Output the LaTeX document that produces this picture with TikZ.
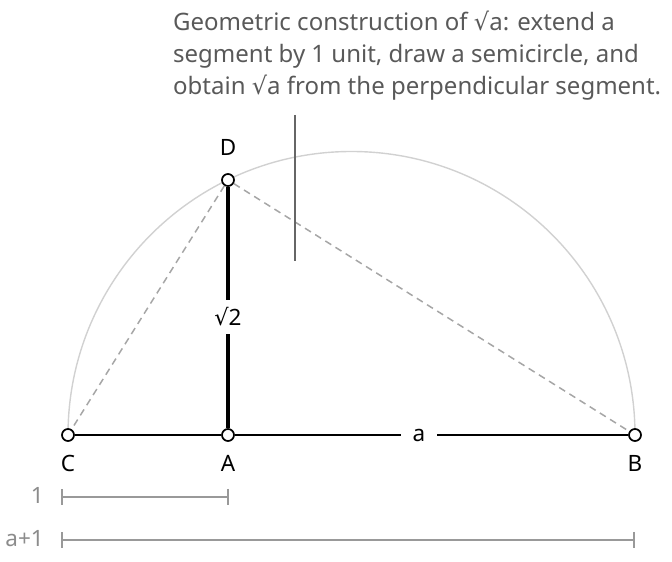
\documentclass[tikz,border=0pt]{standalone}
\usepackage{fontspec}
\setmainfont{Noto Sans}
\newfontfamily\rootfont{DejaVu Sans}
\newcommand{\rt}{{\rootfont √}}
\usepackage{tikz}
\usetikzlibrary{arrows.meta}
\begin{document}
\begin{tikzpicture}[x=1pt, y=1pt,
        every node/.style={font=\fontsize{22.5}{27}\selectfont},
        point/.style={circle, draw, fill=white, line width=1.7pt, minimum size=12pt, inner sep=0pt},
        cut/.style={inner sep=0pt, minimum width=36pt, minimum height=34pt},
        chord/.style={draw=black!35, line width=1.5pt, dash pattern=on 7pt off 5pt},
        scalebar/.style={draw=black!40, line width=1.6pt, {Bar[width=16pt]}-{Bar[width=16pt]}},
        scalelabel/.style={text=black!45, anchor=east, inner sep=0pt}]

    \useasboundingbox (0,0) rectangle (672,562);

    % Semicircle over C--B
    \draw[black!18, line width=1.4pt] (68,127) arc[start angle=180, end angle=0, radius=283.5];

    % Points
    \node[point] (C) at (68,127) {};
    \node[point] (A) at (228,127) {};
    \node[point] (B) at (635,127) {};
    \node[point] (D) at (228,382) {};

    \node (labC) at (68,99) {C};
    \node (labA) at (228,99) {A};
    \node (labB) at (635,99) {B};
    \node (labD) at (228,415) {D};

    % Segments
    \node[cut] (alab) at (419,127) {a};
    \node[cut] (rootlab) at (228,245) {\rt2};
    \draw[line width=2pt] (C) -- (A);
    \draw[line width=2pt] (A) -- (alab) (alab) -- (B);
    \draw[line width=4.4pt] (A) -- (rootlab) (rootlab) -- (D);
    \draw[chord] (D) -- (C);
    \draw[chord] (D) -- (B);

    % Caption with leader
    \node[anchor=north west, align=left, inner sep=0pt, text=black!65,
        font=\fontsize{24}{32}\selectfont] (note) at (173,551)
        {Geometric construction of \rt a: extend a\\
         segment by 1 unit, draw a semicircle, and\\
         obtain \rt a from the perpendicular segment.};
    \coordinate (leadtop) at (295,447);
    \coordinate (leadbot) at (295,301);
    \draw[black!60, line width=1.6pt] (leadtop) -- (leadbot);

    % Scale bars
    \coordinate (one0) at (61,65);
    \coordinate (one1) at (229,65);
    \coordinate (all0) at (61,22);
    \coordinate (all1) at (635,22);
    \draw[scalebar] (one0) -- (one1);
    \draw[scalebar] (all0) -- (all1);
    \node[scalelabel] (labone) at (44,67) {1};
    \node[scalelabel] (laball) at (44,23) {a+1};
\end{tikzpicture}
\end{document}
